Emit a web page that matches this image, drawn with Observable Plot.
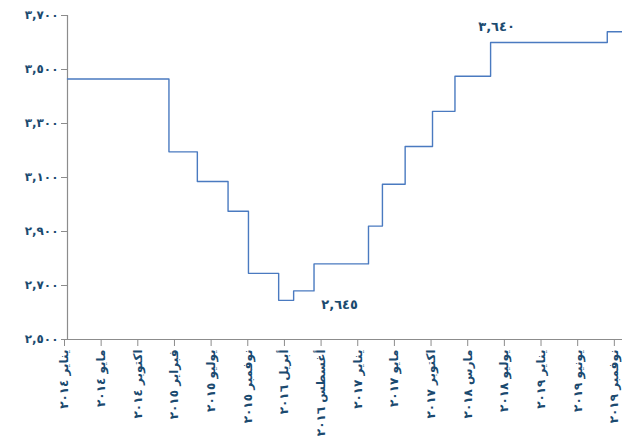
<!DOCTYPE html>
<html>
<head>
<meta charset="utf-8">
<script src="https://cdn.jsdelivr.net/npm/d3@7"></script>
<script src="https://cdn.jsdelivr.net/npm/@observablehq/plot@0.6"></script>
<style>
  html, body { margin: 0; padding: 0; background: #fff; }
  #chart { width: 622px; height: 446px; }
</style>
</head>
<body>
<div id="chart"></div>
<script>
// Step dates and values
const stepDates = ["2014-01-01","2015-01-29","2015-05-19","2015-09-15","2015-12-03","2016-03-29","2016-05-26","2016-08-13","2017-03-12","2017-05-05","2017-08-01","2017-11-15","2018-02-10","2018-06-28","2019-09-23","2019-11-21"];
const rates = [3465,3195,3085,2975,2745,2645,2680,2780,2920,3075,3215,3345,3475,3600,3640,3640];

// X axis ticks (evenly spaced) and their labels
const xTickDates = ["2014-01-01","2014-05-23","2014-10-12","2015-03-03","2015-07-23","2015-12-12","2016-05-02","2016-09-21","2017-02-10","2017-07-02","2017-11-21","2018-04-12","2018-09-01","2019-01-21","2019-06-12","2019-11-01"];
const xTickLabels = ["يناير ٢٠١٤","مايو ٢٠١٤","اكتوبر ٢٠١٤","فبراير ٢٠١٥","يوليو ٢٠١٥","نوفمبر ٢٠١٥","أبريل ٢٠١٦","أغسطس ٢٠١٦","يناير ٢٠١٧","مايو ٢٠١٧","اكتوبر ٢٠١٧","مارس ٢٠١٨","يوليو ٢٠١٨","يناير ٢٠١٩","يونيو ٢٠١٩","نوفمبر ٢٠١٩"];

// Y axis ticks and labels
const yTicks = [2500,2700,2900,3100,3300,3500,3700];
const yTickLabels = ["٢,٥٠٠","٢,٧٠٠","٢,٩٠٠","٣,١٠٠","٣,٣٠٠","٣,٥٠٠","٣,٧٠٠"];

// Annotations
const noteDates = ["2018-06-28","2016-03-29"];
const noteValues = [3640,2645];
const noteTexts = ["٣,٦٤٠","٢,٦٤٥"];

const parse = d3.utcParse("%Y-%m-%d");
const data = stepDates.map((d, i) => ({date: parse(d), rate: rates[i]}));
const xTicks = xTickDates.map(parse);
const xLabelMap = new Map(xTicks.map((d, i) => [+d, xTickLabels[i]]));
const yLabelMap = new Map(yTicks.map((v, i) => [v, yTickLabels[i]]));
const notes = noteDates.map((d, i) => ({date: parse(d), rate: noteValues[i], text: noteTexts[i]}));

const textColor = "#1b4a6f";
const axisColor = "#8c8c8c";
const x0 = parse("2014-01-01"), x1 = parse("2019-11-21");

const chart = Plot.plot({
  width: 622,
  height: 446,
  marginLeft: 67,
  marginRight: 0,
  marginTop: 15,
  marginBottom: 107,
  style: {fontFamily: "DejaVu Sans", background: "#fff"},
  x: {type: "utc", domain: [x0, x1]},
  y: {domain: [2500, 3700]},
  marks: [
    Plot.ruleY([2500], {x1: x0, x2: x1, stroke: axisColor, strokeWidth: 1.2}),
    Plot.ruleX([x0], {y1: 2500, y2: 3700, stroke: axisColor, strokeWidth: 1.2}),
    Plot.axisY({ticks: yTicks, tickFormat: v => yLabelMap.get(v), tickSize: 6, tickPadding: 3,
      stroke: axisColor, fill: textColor, fontSize: 12, fontWeight: "bold", label: null}),
    Plot.axisX({ticks: xTicks, tickFormat: d => xLabelMap.get(+d), tickSize: 7, tickPadding: 3,
      tickRotate: -90, dx: -3, stroke: axisColor, fill: textColor, fontSize: 12, fontWeight: "bold", label: null}),
    Plot.line(data, {x: "date", y: "rate", curve: "step-after", stroke: "#4a7ac0", strokeWidth: 1.4}),
    Plot.text([notes[0]], {x: "date", y: "rate", text: "text", dx: 6, dy: -5, fill: textColor, fontSize: 13, fontWeight: "bold"}),
    Plot.text([notes[1]], {x: "date", y: "rate", text: "text", dx: 61, dy: 4, fill: textColor, fontSize: 13, fontWeight: "bold"})
  ]
});
document.getElementById("chart").appendChild(chart);
</script>
</body>
</html>
